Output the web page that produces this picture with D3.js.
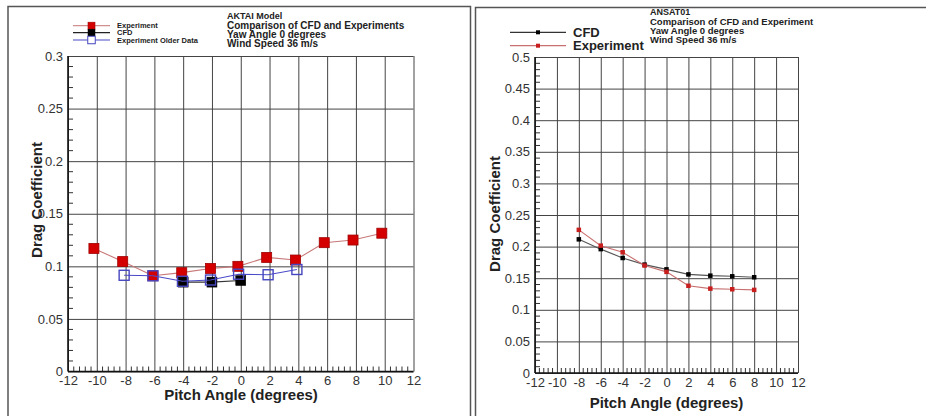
<!DOCTYPE html>
<html>
<head>
<style>
  body { margin: 0; background: #fff; }
  svg { font-family: "Liberation Sans", Arial, sans-serif; }
  .tick text { fill: #333; font-size: 13px; }
</style>
</head>
<body>
<svg id="chart" width="926" height="416"></svg>
<script src="https://d3js.org/d3.v7.min.js"></script>
<script>
// AKTAI (left panel)
const aktaiExpX = [-10.2, -8.2, -6.1, -4.1, -2.1, -0.2, 1.8, 3.8, 5.8, 7.8, 9.8];
const aktaiExpY = [0.117, 0.1045, 0.091, 0.094, 0.098, 0.100, 0.1085, 0.106, 0.1225, 0.125, 0.1315];
const aktaiCfdX = [-4.0, -2.0, 0.0];
const aktaiCfdY = [0.085, 0.085, 0.0865];
const aktaiOldX = [-8.1, -6.1, -4.05, -2.1, -0.15, 1.9, 3.9];
const aktaiOldY = [0.0915, 0.091, 0.0858, 0.087, 0.0925, 0.092, 0.097];

// ANSAT01 (right panel)
const pitchAngles = [-8, -6, -4, -2, 0, 2, 4, 6, 8];
const ansatCfd = [0.2115, 0.196, 0.182, 0.1715, 0.164, 0.156, 0.154, 0.153, 0.1515];
const ansatExp = [0.2265, 0.2015, 0.191, 0.170, 0.160, 0.138, 0.1335, 0.1325, 0.1315];

const xTicks = [-12, -10, -8, -6, -4, -2, 0, 2, 4, 6, 8, 10, 12];
const aktaiYTicks = [0, 0.05, 0.1, 0.15, 0.2, 0.25, 0.3];
const ansatYTicks = [0, 0.05, 0.1, 0.15, 0.2, 0.25, 0.3, 0.35, 0.4, 0.45, 0.5];

const svg = d3.select("#chart");

// panel frames
svg.append("path").attr("d", "M8,416 V6.5 H470.5 V416")
  .attr("fill", "none").attr("stroke", "#555").attr("stroke-width", 1.5);
svg.append("path").attr("d", "M475.5,416 V7.5 H926")
  .attr("fill", "none").attr("stroke", "#555").attr("stroke-width", 1.5);

function drawFrame(x, y, yTicks, yMinorStep, xLabelPad) {
  const g = svg.append("g");
  const [x0, x1] = x.range();
  const [y0, y1] = y.range();

  // minor ticks
  const xMinor = d3.range(-12, 12.001, 0.4).filter(v => Math.abs(v / 2 - Math.round(v / 2)) > 1e-6);
  g.append("g").selectAll("line").data(xMinor).join("line")
    .attr("x1", d => x(d)).attr("x2", d => x(d))
    .attr("y1", y0).attr("y2", y0 - 5)
    .attr("stroke", "#333").attr("stroke-width", 1);
  const yMax = yTicks[yTicks.length - 1];
  const yMinor = d3.range(0, yMax + 1e-9, yMinorStep).filter(v => Math.abs(v / 0.05 - Math.round(v / 0.05)) > 1e-6);
  g.append("g").selectAll("line").data(yMinor).join("line")
    .attr("x1", x0).attr("x2", x0 + 5)
    .attr("y1", d => y(d)).attr("y2", d => y(d))
    .attr("stroke", "#333").attr("stroke-width", 1);

  // axes with grid lines
  const ax = g.append("g").attr("transform", `translate(0,${y0})`)
    .call(d3.axisBottom(x).tickValues(xTicks).tickSizeInner(-(y0 - y1)).tickSizeOuter(0)
      .tickPadding(xLabelPad).tickFormat(d => String(d)));
  const ay = g.append("g").attr("transform", `translate(${x0},0)`)
    .call(d3.axisLeft(y).tickValues(yTicks).tickSizeInner(-(x1 - x0)).tickSizeOuter(0)
      .tickPadding(5).tickFormat(d => String(d)));
  [ax, ay].forEach(a => {
    a.select(".domain").remove();
    a.selectAll(".tick line").attr("stroke", "#444").attr("stroke-width", 1);
  });

  // main axis lines
  g.append("line").attr("x1", x0).attr("x2", x1).attr("y1", y0).attr("y2", y0)
    .attr("stroke", "#111").attr("stroke-width", 1.6);
  g.append("line").attr("x1", x0).attr("x2", x0).attr("y1", y0).attr("y2", y1)
    .attr("stroke", "#111").attr("stroke-width", 1.6);
}

function drawSeries(x, y, xs, ys, lineColor, marker) {
  const pts = xs.map((v, i) => [v, ys[i]]);
  svg.append("path").datum(pts)
    .attr("fill", "none").attr("stroke", lineColor).attr("stroke-width", 1.1)
    .attr("d", d3.line().x(d => x(d[0])).y(d => y(d[1])));
  svg.append("g").selectAll("rect").data(pts).join("rect")
    .attr("x", d => x(d[0]) - marker.size / 2)
    .attr("y", d => y(d[1]) - marker.size / 2)
    .attr("width", marker.size).attr("height", marker.size)
    .attr("fill", marker.fill).attr("stroke", marker.stroke)
    .attr("stroke-width", marker.sw);
}

function legendRow(x1, x2, yy, lineColor, marker, label, font, labelX) {
  svg.append("line").attr("x1", x1).attr("x2", x2).attr("y1", yy).attr("y2", yy)
    .attr("stroke", lineColor).attr("stroke-width", 1.2);
  const mx = (x1 + x2) / 2;
  svg.append("rect").attr("x", mx - marker.size / 2).attr("y", yy - marker.size / 2)
    .attr("width", marker.size).attr("height", marker.size)
    .attr("fill", marker.fill).attr("stroke", marker.stroke).attr("stroke-width", marker.sw);
  svg.append("text").attr("x", labelX).attr("y", yy).attr("dy", "0.35em")
    .attr("font-size", font).attr("font-weight", "bold").attr("fill", "#222").text(label);
}

function titleBlock(x0, lines) {
  lines.forEach(l => {
    svg.append("text").attr("x", x0).attr("y", l.y).attr("dy", "0.35em")
      .attr("font-size", l.size).attr("font-weight", "bold").attr("fill", "#222").text(l.text);
  });
}

// ---------- left panel ----------
const xL = d3.scaleLinear().domain([-12, 12]).range([68, 413.5]);
const yL = d3.scaleLinear().domain([0, 0.3]).range([371.5, 56]);
drawFrame(xL, yL, aktaiYTicks, 0.01, 4);

const redSq = { size: 10, fill: "#d40000", stroke: "#a00000", sw: 0.8 };
const blkSq = { size: 10, fill: "#000", stroke: "#000", sw: 0.5 };
const bluSq = { size: 10, fill: "none", stroke: "#4646c0", sw: 1.4 };
drawSeries(xL, yL, aktaiExpX, aktaiExpY, "#c87878", redSq);
drawSeries(xL, yL, aktaiCfdX, aktaiCfdY, "#333", blkSq);
drawSeries(xL, yL, aktaiOldX, aktaiOldY, "#4a4ac8", bluSq);

legendRow(73, 110, 25.7, "#d09090", { size: 7, fill: "#d40000", stroke: "#a00000", sw: 0.6 }, "Experiment", "7.5px", 117);
legendRow(73, 110, 32.7, "#222", { size: 7, fill: "#000", stroke: "#000", sw: 0.5 }, "CFD", "7.5px", 117);
legendRow(73, 110, 40, "#4a4ac8", { size: 7.5, fill: "#fff", stroke: "#4646c0", sw: 1 }, "Experiment Older Data", "7.5px", 117);

titleBlock(227, [
  { y: 16, size: "9px", text: "AKTAI Model" },
  { y: 25.5, size: "10px", text: "Comparison of CFD and Experiments" },
  { y: 34.7, size: "10px", text: "Yaw Angle 0 degrees" },
  { y: 43.8, size: "10px", text: "Wind Speed 36 m/s" }
]);

svg.append("text").attr("x", 241).attr("y", 395).attr("dy", "0.35em")
  .attr("text-anchor", "middle").attr("font-size", "15px").attr("font-weight", "bold")
  .attr("fill", "#222").text("Pitch Angle (degrees)");
svg.append("text").attr("transform", "translate(36.5,200) rotate(-90)").attr("dy", "0.35em")
  .attr("text-anchor", "middle").attr("font-size", "15px").attr("font-weight", "bold")
  .attr("fill", "#222").text("Drag Coefficient");

// ---------- right panel ----------
const xR = d3.scaleLinear().domain([-12, 12]).range([535, 798]);
const yR = d3.scaleLinear().domain([0, 0.5]).range([373, 57]);
drawFrame(xR, yR, ansatYTicks, 0.01, 5);

drawSeries(xR, yR, pitchAngles, ansatCfd, "#555", { size: 4.5, fill: "#000", stroke: "none", sw: 0 });
drawSeries(xR, yR, pitchAngles, ansatExp, "#c87070", { size: 4.5, fill: "#c81e1e", stroke: "none", sw: 0 });

legendRow(510, 566, 32.3, "#333", { size: 4, fill: "#000", stroke: "none", sw: 0 }, "CFD", "13px", 573);
legendRow(510, 566, 45.7, "#c87070", { size: 4, fill: "#c81e1e", stroke: "none", sw: 0 }, "Experiment", "13px", 573);

titleBlock(650, [
  { y: 11.5, size: "9px", text: "ANSAT01" },
  { y: 22, size: "9.5px", text: "Comparison of CFD and Experiment" },
  { y: 31, size: "9.5px", text: "Yaw Angle 0 degrees" },
  { y: 39.8, size: "9.5px", text: "Wind Speed 36 m/s" }
]);

svg.append("text").attr("x", 666.5).attr("y", 403).attr("dy", "0.35em")
  .attr("text-anchor", "middle").attr("font-size", "15px").attr("font-weight", "bold")
  .attr("fill", "#222").text("Pitch Angle (degrees)");
svg.append("text").attr("transform", "translate(495,214) rotate(-90)").attr("dy", "0.35em")
  .attr("text-anchor", "middle").attr("font-size", "15px").attr("font-weight", "bold")
  .attr("fill", "#222").text("Drag Coefficient");
</script>
</body>
</html>
